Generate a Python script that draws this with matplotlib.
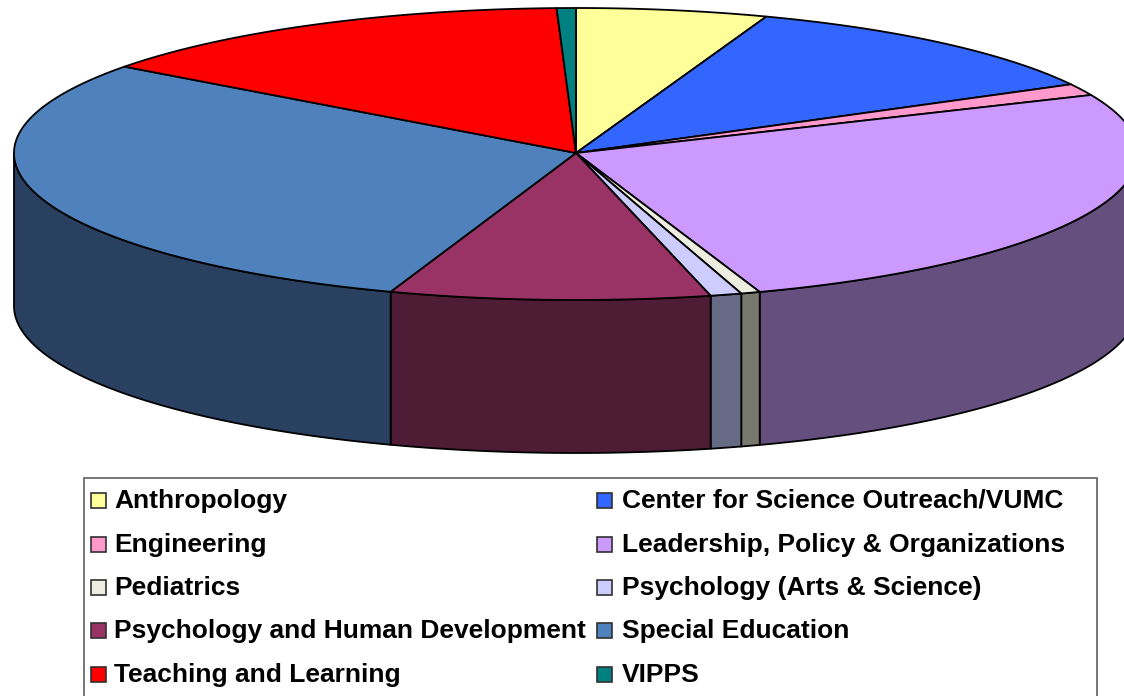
import numpy as np
import matplotlib
matplotlib.use('Agg')
import matplotlib.pyplot as plt
from matplotlib.patches import Rectangle

labels = ['Anthropology', 'Center for Science Outreach/VUMC', 'Engineering',
          'Leadership, Policy & Organizations', 'Pediatrics',
          'Psychology (Arts & Science)', 'Psychology and Human Development',
          'Special Education', 'Teaching and Learning', 'VIPPS']
values = [5.5, 11.65, 1.3, 26.25, 0.55, 0.9, 9.2, 29.8, 14.3, 0.55]
top_colors = ['#ffff99', '#3366ff', '#ff99cc', '#cc99ff', '#eeeee0',
              '#ccccff', '#993366', '#4f81bd', '#ff0000', '#008080']
side_colors = ['#808050', '#1c3380', '#804d66', '#654f7f', '#78786e',
               '#666a85', '#4f1c36', '#2a4060', '#800000', '#004040']

cx, cy = 576, 153
rx = 562
ry_back, ry_front = 145, 147
depth = 153

plt.rcParams['font.family'] = ['Liberation Sans', 'DejaVu Sans']
fig = plt.figure(figsize=(11.24, 6.96), dpi=100)
ax = fig.add_axes([0, 0, 1, 1])
ax.set_xlim(0, 1124)
ax.set_ylim(696, 0)
ax.axis('off')


def rim(a0, a1):
    # angles in degrees clockwise from 12 o'clock
    t = np.radians(np.linspace(a0, a1, max(int(a1 - a0) * 2, 2) + 1))
    c = np.cos(t)
    return cx + rx * np.sin(t), cy - np.where(c > 0, ry_back, ry_front) * c


edges = np.cumsum([0] + values) / np.sum(values) * 360

# side wall, only the front half of the rim shows
for n in range(len(values)):
    a0 = max(edges[n], 90)
    a1 = min(edges[n + 1], 270)
    if a1 <= a0:
        continue
    x, y = rim(a0, a1)
    ax.fill(np.r_[x, x[::-1]], np.r_[y, y[::-1] + depth],
            facecolor=side_colors[n], edgecolor='black', lw=1.3, joinstyle='round')

# top face
for n in range(len(values)):
    x, y = rim(edges[n], edges[n + 1])
    ax.fill(np.r_[cx, x], np.r_[cy, y], facecolor=top_colors[n],
            edgecolor='black', lw=1.3, joinstyle='round')

# legend box, runs off the bottom of the picture
ax.add_patch(Rectangle((83.5, 478), 1013, 240, facecolor='white', edgecolor='#606060', lw=1.2))

rows = [501, 545, 588, 631, 675]
for n, label in enumerate(labels):
    col = n % 2
    y = rows[n // 2]
    mx = [91, 597][col]
    tx = [114, 622][col]
    ax.add_patch(Rectangle((mx, y - 8), 15, 15, facecolor=top_colors[n],
                           edgecolor='#303030', lw=1.2))
    ax.text(tx, y, label, fontsize=19, fontweight='bold', va='center', ha='left', color='black')

plt.savefig('out.png', dpi=100)
